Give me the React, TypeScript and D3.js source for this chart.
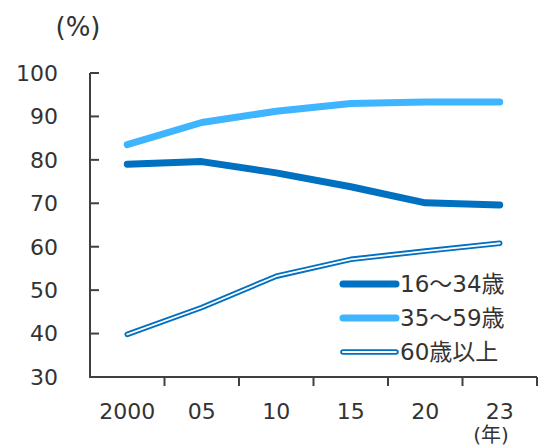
import React from "react";
import * as d3 from "d3";

// Survey years (category axis) and the share (%) per age group
const years = ["2000", "05", "10", "15", "20", "23"];
const age16to34 = [79.0, 79.6, 77.0, 73.8, 70.1, 69.6];
const age35to59 = [83.5, 88.6, 91.2, 93.0, 93.3, 93.3];
const age60plus = [39.8, 46.0, 53.2, 57.1, 59.0, 60.8];
const yTicks = [30, 40, 50, 60, 70, 80, 90, 100];
const seriesNames = ["16～34歳", "35～59歳", "60歳以上"];

const W = 539;
const H = 448;
const FONT = "'DejaVu Sans', 'Noto Sans CJK JP', sans-serif";
const TEXT = "#333333";
const AXIS = "#404040";
const DARK = "#0070C0";
const LIGHT = "#3FB4FF";

export default function App() {
  const x = d3.scaleBand<string>().domain(years).range([90, 537]);
  const y = d3.scaleLinear().domain([30, 100]).range([377, 73]);
  const cx = (i: number) => (x(years[i]) as number) + x.bandwidth() / 2;

  const line = d3
    .line<number>()
    .x((_, i) => cx(i))
    .y((v) => y(v));

  const legendY = [284, 318, 352];

  return (
    <svg
      width={W}
      height={H}
      style={{ position: "absolute", left: 0, top: 0, background: "#fff" }}
      fontFamily={FONT}
    >
      {/* unit label */}
      <text x={78} y={36} fontSize={26} fill={TEXT} textAnchor="middle">
        (%)
      </text>

      {/* y axis with inward ticks */}
      <line x1={90} x2={90} y1={y(100)} y2={y(30)} stroke={AXIS} strokeWidth={2} />
      {yTicks.map((t) => (
        <g key={t}>
          <line x1={90} x2={99} y1={y(t)} y2={y(t)} stroke={AXIS} strokeWidth={2} />
          <text
            x={58}
            y={y(t)}
            dy="0.36em"
            fontSize={22}
            fill={TEXT}
            textAnchor="end"
          >
            {t}
          </text>
        </g>
      ))}

      {/* x axis with outward ticks at band boundaries */}
      <line x1={89} x2={537} y1={y(30)} y2={y(30)} stroke={AXIS} strokeWidth={2} />
      {years.map((yr, i) => (
        <g key={yr}>
          <line
            x1={(x(yr) as number) + x.bandwidth()}
            x2={(x(yr) as number) + x.bandwidth()}
            y1={y(30)}
            y2={y(30) + 9}
            stroke={AXIS}
            strokeWidth={2}
          />
          <text x={cx(i)} y={419} fontSize={22} fill={TEXT} textAnchor="middle">
            {yr}
          </text>
        </g>
      ))}
      <text x={491} y={442} fontSize={20} fill={TEXT} textAnchor="middle">
        (年)
      </text>

      {/* series */}
      <path
        d={line(age35to59) || ""}
        fill="none"
        stroke={LIGHT}
        strokeWidth={7}
        strokeLinecap="round"
        strokeLinejoin="round"
      />
      <path
        d={line(age16to34) || ""}
        fill="none"
        stroke={DARK}
        strokeWidth={7}
        strokeLinecap="round"
        strokeLinejoin="round"
      />
      <path
        d={line(age60plus) || ""}
        fill="none"
        stroke={DARK}
        strokeWidth={5.5}
        strokeLinecap="round"
        strokeLinejoin="round"
      />
      <path
        d={line(age60plus) || ""}
        fill="none"
        stroke="#fff"
        strokeWidth={1.8}
        strokeLinecap="round"
        strokeLinejoin="round"
      />

      {/* legend */}
      <line x1={343} x2={396} y1={legendY[0]} y2={legendY[0]} stroke={DARK} strokeWidth={7} strokeLinecap="round" />
      <line x1={343} x2={396} y1={legendY[1]} y2={legendY[1]} stroke={LIGHT} strokeWidth={7} strokeLinecap="round" />
      <line x1={343} x2={396} y1={legendY[2]} y2={legendY[2]} stroke={DARK} strokeWidth={5.5} strokeLinecap="round" />
      <line x1={343} x2={396} y1={legendY[2]} y2={legendY[2]} stroke="#fff" strokeWidth={1.8} strokeLinecap="round" />
      {seriesNames.map((n, i) => (
        <text key={n} x={400} y={legendY[i]} dy="0.36em" fontSize={23} fill={TEXT}>
          {n}
        </text>
      ))}
    </svg>
  );
}
